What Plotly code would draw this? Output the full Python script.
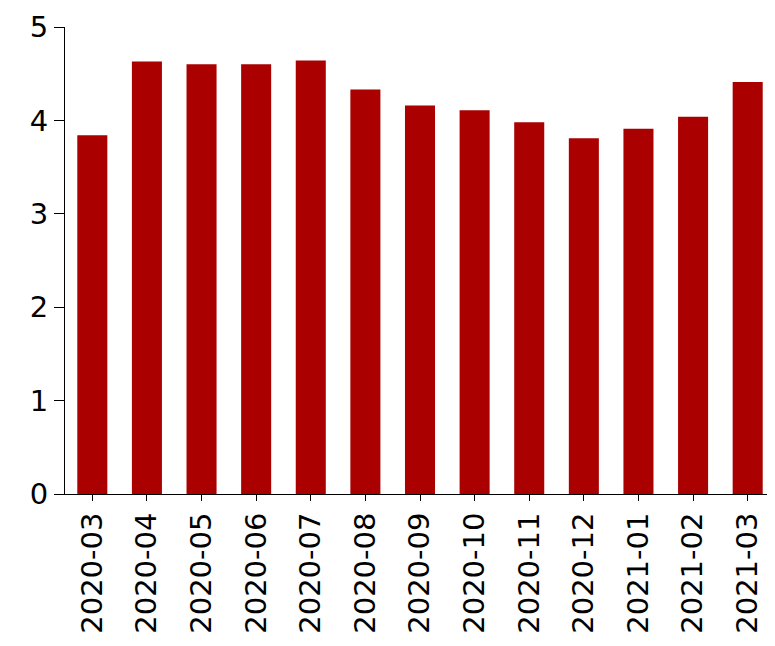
import plotly.graph_objects as go

months = ["2020-03", "2020-04", "2020-05", "2020-06", "2020-07", "2020-08", "2020-09",
          "2020-10", "2020-11", "2020-12", "2021-01", "2021-02", "2021-03"]
values = [3.84, 4.63, 4.60, 4.60, 4.64, 4.33, 4.16, 4.11, 3.98, 3.81, 3.91, 4.04, 4.41]

fig = go.Figure(go.Bar(x=months, y=values, marker_color="#aa0000", marker_line_width=0))

fig.update_layout(
    width=767, height=630,
    margin=dict(l=57, r=0, t=19, b=144),
    plot_bgcolor="white", paper_bgcolor="white",
    font=dict(family="DejaVu Sans", size=29, color="black"),
    bargap=0.45, showlegend=False,
)
fig.update_xaxes(type="category", tickangle=-90, showline=True, linecolor="black",
                 ticks="outside", ticklen=6, tickcolor="black")
fig.update_yaxes(range=[0, 5], dtick=1, showgrid=False, zeroline=False, showline=True,
                 linecolor="black", ticks="outside", ticklen=10, tickcolor="black")

fig.write_html("out.html")
